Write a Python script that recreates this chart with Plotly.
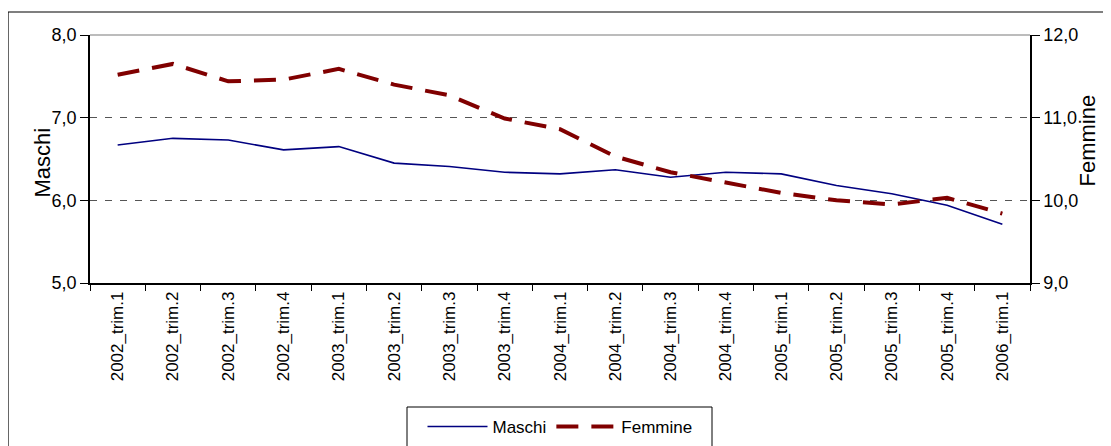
import plotly.graph_objects as go

# dati trimestrali
TRIMESTRI = [
    "2002_trim.1", "2002_trim.2", "2002_trim.3", "2002_trim.4",
    "2003_trim.1", "2003_trim.2", "2003_trim.3", "2003_trim.4",
    "2004_trim.1", "2004_trim.2", "2004_trim.3", "2004_trim.4",
    "2005_trim.1", "2005_trim.2", "2005_trim.3", "2005_trim.4",
    "2006_trim.1",
]
MASCHI = [6.67, 6.75, 6.73, 6.61, 6.65, 6.45, 6.41, 6.34, 6.32,
          6.37, 6.28, 6.34, 6.32, 6.18, 6.08, 5.94, 5.71]
FEMMINE = [11.52, 11.65, 11.44, 11.46, 11.59, 11.40, 11.27, 10.99, 10.86,
           10.53, 10.34, 10.21, 10.09, 10.00, 9.95, 10.03, 9.84]

Y_SX_TICKS = [5, 6, 7, 8]
Y_DX_TICKS = [9, 10, 11, 12]

FONT = "Liberation Sans, Arial, sans-serif"

# la pagina ha 8px di margine sul body: lavoro in coordinate di pagina
OFF = 8
W, H = 1111 - OFF, 446 - OFF
L, R, T, B = 90, 1030, 35, 283  # area del grafico, pixel di pagina


def px_x(p):
    return (p - L) / (R - L)


def px_y(p):
    return (B - p) / (B - T)


fig = go.Figure()

fig.add_trace(go.Scatter(
    x=TRIMESTRI, y=MASCHI, mode="lines", name="Maschi",
    line=dict(color="#000080", width=1.6),
))
fig.add_trace(go.Scatter(
    x=TRIMESTRI, y=FEMMINE, mode="lines", name="Femmine", yaxis="y2",
    line=dict(color="#800000", width=4, dash="22px,13px"),
))

# bordo superiore dell'area del grafico (grigio pieno)
fig.add_shape(type="line", xref="paper", yref="paper",
              x0=0, x1=1, y0=1, y1=1,
              line=dict(color="#a6a6a6", width=1.5), layer="above")

# cornice esterna, tagliata a destra e in basso
fig.add_shape(type="rect", xref="paper", yref="paper",
              x0=px_x(8), x1=px_x(1130), y0=px_y(470), y1=px_y(12),
              line=dict(color="black", width=1.2))

# riquadro della legenda (tagliato in basso)
fig.add_shape(type="rect", xref="paper", yref="paper",
              x0=px_x(407), x1=px_x(712), y0=px_y(470), y1=px_y(407),
              line=dict(color="black", width=1))

fig.add_annotation(text="Maschi", xref="paper", yref="paper",
                   x=px_x(27), y=px_y(163), textangle=-90, showarrow=False,
                   font=dict(family=FONT, size=22, color="black"))
fig.add_annotation(text="Femmine", xref="paper", yref="paper",
                   x=px_x(1101), y=px_y(141), textangle=-90, showarrow=False,
                   font=dict(family=FONT, size=22, color="black"))

fig.update_layout(
    width=W, height=H,
    margin=dict(l=L - OFF, r=W - (R - OFF), t=T - OFF, b=H - (B - OFF),
                autoexpand=False),
    paper_bgcolor="white", plot_bgcolor="white",
    separators=",.",
    showlegend=True,
    legend=dict(orientation="h", x=0.5, xanchor="center",
                y=px_y(409), yanchor="top",
                font=dict(family=FONT, size=17, color="black"),
                bgcolor="rgba(0,0,0,0)", itemwidth=60),
    font=dict(family=FONT, size=18, color="black"),
)

fig.update_xaxes(
    range=[-0.5, len(TRIMESTRI) - 0.5],
    tickson="boundaries", ticks="outside", ticklen=6, tickcolor="black",
    showline=True, linecolor="black", linewidth=1.5,
    tickangle=-90, showgrid=False, zeroline=False,
    tickfont=dict(family=FONT, size=17, color="black"),
)

fig.update_layout(
    yaxis=dict(
        range=[5, 8], tickvals=Y_SX_TICKS, tickformat=".1f",
        ticks="outside", ticklen=8, tickcolor="black",
        showline=True, linecolor="black", linewidth=1.5,
        showgrid=True, gridcolor="#555555", gridwidth=1, griddash="7px,8px",
        zeroline=False,
        tickfont=dict(family=FONT, size=18, color="black"),
    ),
    yaxis2=dict(
        range=[9, 12], tickvals=Y_DX_TICKS, tickformat=".1f",
        overlaying="y", side="right",
        ticks="outside", ticklen=8, tickcolor="black",
        showline=True, linecolor="black", linewidth=1.5,
        showgrid=False, zeroline=False,
        tickfont=dict(family=FONT, size=18, color="black"),
    ),
)

fig.write_html("out.html")
